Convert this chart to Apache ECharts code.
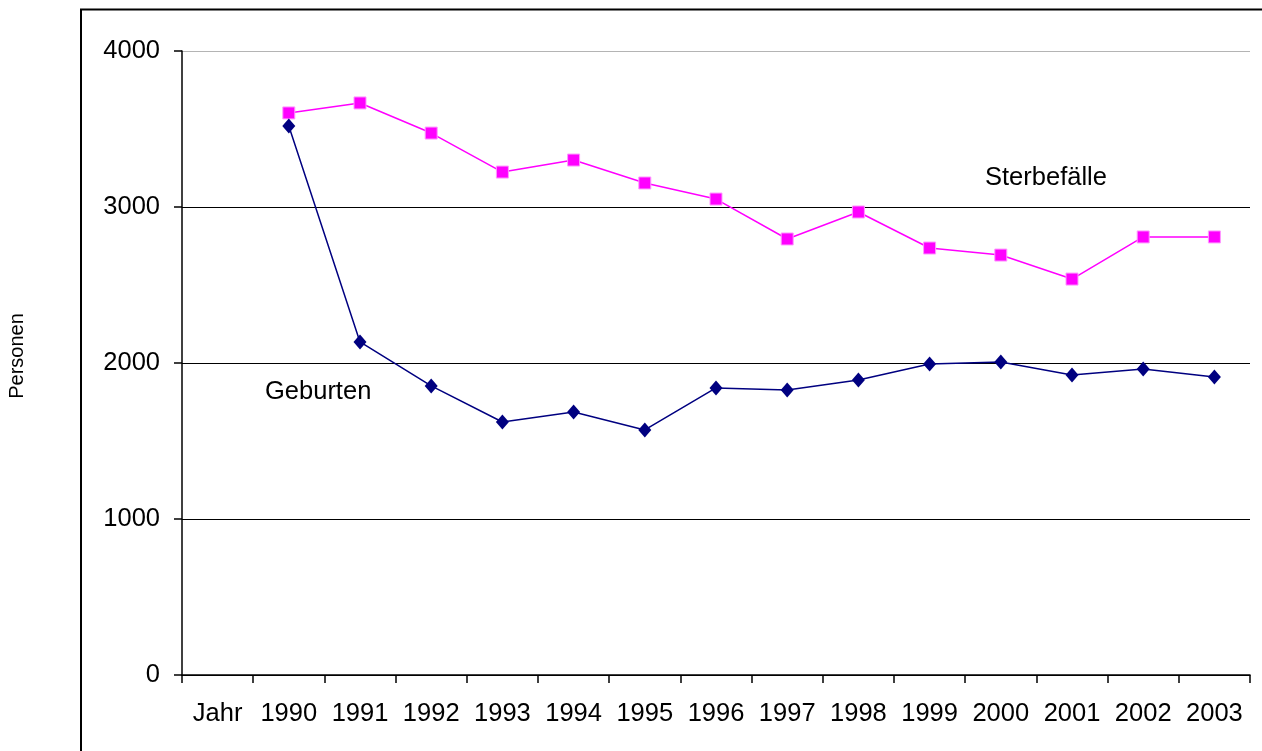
<!DOCTYPE html>
<html><head><meta charset="utf-8">
<script src="https://cdn.jsdelivr.net/npm/echarts@6/dist/echarts.min.js"></script>
<style>html,body{margin:0;padding:0;background:#fff}#c{width:1262px;height:751px}</style>
</head><body><div id="c"></div>
<script>
var categories = ['Jahr','1990','1991','1992','1993','1994','1995','1996','1997','1998','1999','2000','2001','2002','2003'];
var sterbefaelle = [null,3603,3667,3474,3224,3301,3154,3051,2795,2968,2737,2692,2538,2808,2808];
var geburten = [null,3519,2135,1853,1622,1686,1571,1840,1827,1891,1994,2006,1923,1962,1910];
var yTicks = [0,1000,2000,3000,4000];

var font = '"Liberation Sans", Arial, sans-serif';
var chart = echarts.init(document.getElementById('c'), null, {renderer:'canvas'});
chart.setOption({
  animation:false,
  backgroundColor:'#fff',
  grid:{left:182, right:12, top:51, bottom:76},
  xAxis:{
    type:'category', data:categories, boundaryGap:true,
    axisLine:{lineStyle:{color:'#000', width:1.5}},
    axisTick:{show:true, interval:0, length:8, lineStyle:{color:'#000', width:1.5}},
    axisLabel:{interval:0, color:'#000', fontFamily:font, fontSize:25.5, margin:26}
  },
  yAxis:{
    type:'value', min:yTicks[0], max:yTicks[yTicks.length-1], interval:1000,
    axisLine:{show:true, lineStyle:{color:'#000', width:1.5}},
    axisTick:{show:true, length:8, lineStyle:{color:'#000', width:1.5}},
    axisLabel:{color:'#000', fontFamily:font, fontSize:25.5, margin:22,
      formatter:function(v){return String(v);}},
    splitLine:{show:true, lineStyle:{color:['#000','#000','#000','#000','#b4b4b4'], width:1.2}}
  },
  series:[
    {name:'Sterbefälle', type:'line', data:sterbefaelle, symbol:'rect', symbolSize:12,
     lineStyle:{color:'#ff00ff', width:1.5},
     itemStyle:{color:'#ff00ff', borderColor:'#ff99ff', borderWidth:1}},
    {name:'Geburten', type:'line', data:geburten, symbol:'diamond', symbolSize:[13,15],
     lineStyle:{color:'#000080', width:1.5},
     itemStyle:{color:'#000080'}}
  ],
  graphic:[
    {type:'rect', shape:{x:81,y:9.5,width:1300,height:800}, z:-1, silent:true,
     style:{fill:'none', stroke:'#000', lineWidth:2}},
    {type:'text', x:985, y:178, style:{text:'Sterbefälle', font:'25.5px '+font, fill:'#000', verticalAlign:'middle'}},
    {type:'text', x:265, y:392, style:{text:'Geburten', font:'25.5px '+font, fill:'#000', verticalAlign:'middle'}},
    {type:'text', x:17, y:356, rotation:Math.PI/2, style:{text:'Personen', font:'20px '+font, fill:'#000', align:'center', verticalAlign:'middle'}}
  ]
});
</script></body></html>
